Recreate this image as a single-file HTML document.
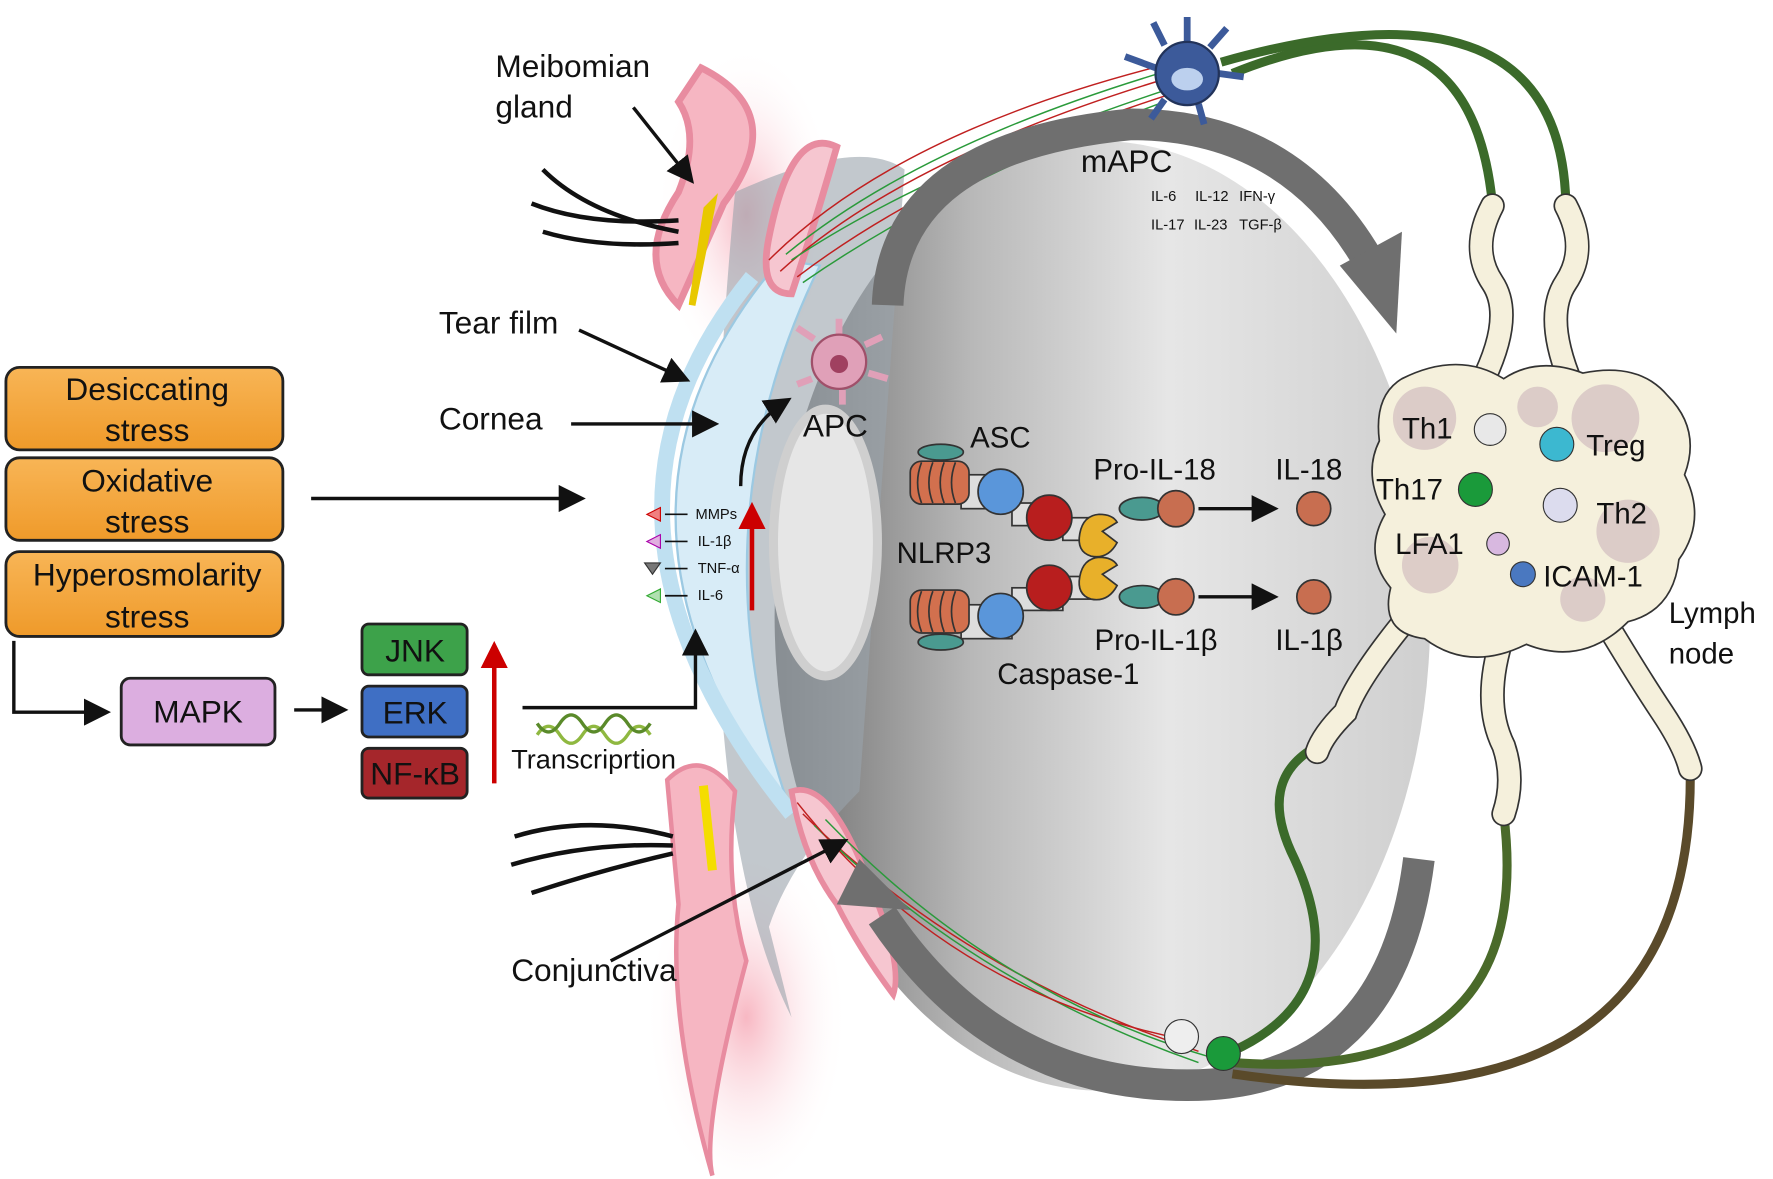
<!DOCTYPE html>
<html><head><meta charset="utf-8"><style>
html,body{margin:0;padding:0;background:#fff;}
svg{display:block;font-family:"Liberation Sans",sans-serif;}
</style></head><body>
<svg width="1773" height="1179" viewBox="0 0 1568 1043" xmlns="http://www.w3.org/2000/svg">
<defs>
<linearGradient id="eye" x1="0" x2="1" y1="0" y2="0">
<stop offset="0" stop-color="#6e6e6e"/><stop offset="0.3" stop-color="#b8b8b8"/><stop offset="0.6" stop-color="#e6e6e6"/><stop offset="1" stop-color="#cfcfcf"/></linearGradient>
<linearGradient id="org" x1="0" x2="0" y1="0" y2="1"><stop offset="0" stop-color="#f8b556"/><stop offset="1" stop-color="#ef9a2a"/></linearGradient>
<radialGradient id="pinkfade" cx="0.5" cy="0.5" r="0.5"><stop offset="0" stop-color="#f6a6b4" stop-opacity="0.8"/><stop offset="1" stop-color="#fff" stop-opacity="0"/></radialGradient>
<marker id="ah" markerWidth="8" markerHeight="8" refX="6" refY="4" orient="auto" markerUnits="strokeWidth"><path d="M0,0 L8,4 L0,8 Z" fill="#111"/></marker>
<marker id="rh" markerWidth="6" markerHeight="6" refX="4" refY="3" orient="auto" markerUnits="strokeWidth"><path d="M0,0 L6,3 L0,6 Z" fill="#c00"/></marker>
</defs>
<ellipse cx="660" cy="190" rx="80" ry="150" fill="url(#pinkfade)"/>
<ellipse cx="660" cy="900" rx="90" ry="160" fill="url(#pinkfade)"/>
<ellipse cx="975" cy="545" rx="290" ry="420" fill="url(#eye)"/>
<path d="M650,170 Q760,120 800,150 L760,700 Q700,760 680,820 L700,900 Q600,700 650,170Z" fill="#9aa3ab" opacity="0.6"/>
<path d="M690,230 Q500,450 700,720 Q610,470 725,235 Z" fill="#d8ecf7" stroke="#9cc9e2" stroke-width="2"/>
<path d="M665,245 Q490,460 700,720" fill="none" stroke="#bfe0f1" stroke-width="14"/>
<ellipse cx="730" cy="480" rx="46" ry="118" fill="#e6e6e6" stroke="#cfcfcf" stroke-width="8"/>
<path d="M620,60 Q700,100 640,180 L600,270 Q560,230 600,170 Q620,120 600,90 Z" fill="#f6b6c2" stroke="#e88ca0" stroke-width="6"/>
<path d="M625,185 L612,270 L630,180Z" fill="#f4dd00" stroke="#e8c800" stroke-width="6"/>
<path d="M680,210 Q700,110 740,130 Q720,200 700,260 Q670,260 680,210Z" fill="#f6c6d0" stroke="#e88ca0" stroke-width="6"/>
<path d="M590,690 Q620,660 650,700 Q640,780 660,850 Q620,1000 630,1040 Q590,900 600,800 Z" fill="#f6b6c2" stroke="#e88ca0" stroke-width="4"/>
<path d="M622,695 L630,770" stroke="#f4dd00" stroke-width="8"/>
<path d="M700,700 Q730,690 760,760 Q800,850 790,880 Q760,840 740,800 Q710,760 700,700Z" fill="#f6c6d0" stroke="#e88ca0" stroke-width="5"/>
<g fill="none" stroke="#111" stroke-width="4">
<path d="M600,205 Q520,190 480,150"/><path d="M600,195 Q520,200 470,180"/><path d="M600,215 Q530,220 480,205"/>
<path d="M595,740 Q520,720 455,740"/><path d="M595,748 Q520,745 452,765"/><path d="M595,755 Q530,770 470,790"/>
</g>
<g fill="none" stroke-width="1.3">
<path d="M690,240 Q800,140 1030,70" stroke="#c02020"/><path d="M700,230 Q820,150 1030,80" stroke="#2a9a3a"/>
<path d="M680,230 Q790,120 1020,60" stroke="#c02020"/><path d="M710,250 Q840,160 1030,90" stroke="#2a9a3a"/>
<path d="M695,225 Q810,130 1025,65" stroke="#2a9a3a"/><path d="M705,245 Q830,150 1030,85" stroke="#c02020"/>
<path d="M710,720 Q850,860 1060,930" stroke="#c02020"/><path d="M720,730 Q860,870 1060,940" stroke="#2a9a3a"/>
<path d="M705,710 Q840,880 1050,920" stroke="#c02020"/><path d="M730,725 Q880,880 1070,935" stroke="#2a9a3a"/>
</g>
<path d="M785,270 Q790,130 1000,110 Q1140,110 1210,230" fill="none" stroke="#6f6f6f" stroke-width="28"/>
<path d="M1185,235 L1235,295 L1240,205 Z" fill="#6f6f6f"/>
<path d="M1255,760 Q1230,960 1050,960 Q880,960 780,810" fill="none" stroke="#6f6f6f" stroke-width="28"/>
<path d="M740,800 L760,760 L805,805 Z" fill="#6f6f6f"/>
<g fill="none" stroke-width="8">
<path d="M1090,65 Q1300,-20 1320,180" stroke="#3b6a2a"/>
<path d="M1080,55 Q1380,-30 1385,180" stroke="#3b6a2a"/>
<path d="M1090,930 Q1200,880 1145,760 Q1110,690 1165,660" stroke="#3b6a2a"/>
<path d="M1090,940 Q1360,960 1330,720" stroke="#4a6a2a"/>
<path d="M1090,950 Q1500,1010 1495,680" stroke="#5a4a2a"/>
</g>
<!-- lymph node stalks -->
<g fill="none" stroke-linecap="round">
<g stroke="#333" stroke-width="22">
<path d="M1320,182 Q1300,220 1320,250 Q1340,280 1310,340"/>
<path d="M1385,182 Q1405,220 1385,250 Q1365,280 1390,340"/>
<path d="M1250,540 Q1200,600 1190,630 Q1170,650 1165,665"/>
<path d="M1330,560 Q1310,620 1330,660 Q1340,690 1330,720"/>
<path d="M1420,550 Q1450,600 1470,630 Q1490,660 1495,680"/>
</g>
<g stroke="#f5f0dc" stroke-width="19">
<path d="M1320,182 Q1300,220 1320,250 Q1340,280 1310,340"/>
<path d="M1385,182 Q1405,220 1385,250 Q1365,280 1390,340"/>
<path d="M1250,540 Q1200,600 1190,630 Q1170,650 1165,665"/>
<path d="M1330,560 Q1310,620 1330,660 Q1340,690 1330,720"/>
<path d="M1420,550 Q1450,600 1470,630 Q1490,660 1495,680"/>
</g>
</g>
<path d="M1240,335 Q1290,310 1330,335 Q1360,315 1400,330 Q1450,320 1475,350 Q1505,380 1490,420 Q1510,460 1485,495 Q1480,540 1440,550 Q1400,590 1350,570 Q1300,595 1260,565 Q1220,560 1230,520 Q1205,490 1225,455 Q1205,420 1220,390 Q1215,350 1240,335 Z" fill="#f5f0dc" stroke="#333" stroke-width="1.5"/>
<g fill="#c8b0b8" opacity="0.55"><circle cx="1260" cy="370" r="28"/><circle cx="1420" cy="370" r="30"/><circle cx="1265" cy="500" r="25"/><circle cx="1440" cy="470" r="28"/><circle cx="1360" cy="360" r="18"/><circle cx="1400" cy="530" r="20"/></g>
<circle cx="1318" cy="380" r="14" fill="#e8e8e8" stroke="#333"/>
<circle cx="1377" cy="393" r="15" fill="#3cb8d0" stroke="#333"/>
<circle cx="1305" cy="433" r="15" fill="#1a9a3a" stroke="#333"/>
<circle cx="1380" cy="447" r="15" fill="#dcdcee" stroke="#333"/>
<circle cx="1325" cy="481" r="10" fill="#d8b8e0" stroke="#333"/>
<circle cx="1347" cy="508" r="11" fill="#4a78c0" stroke="#333"/>
<g font-size="26" fill="#111"><text x="1240" y="388">Th1</text><text x="1403" y="403">Treg</text><text x="1217" y="442">Th17</text><text x="1412" y="463">Th2</text><text x="1234" y="490">LFA1</text><text x="1365" y="519">ICAM-1</text>
<text x="1476" y="551">Lymph</text><text x="1476" y="587">node</text></g>
<circle cx="1045" cy="917" r="15" fill="#eee" stroke="#333"/><circle cx="1082" cy="932" r="15" fill="#1a9a3a" stroke="#333"/>
<g stroke="#22335a" stroke-width="2" fill="#3c5a9a">
<path d="M1022,60 L995,50 M1030,40 L1020,20 M1050,37 L1050,15 M1070,42 L1085,25 M1078,65 L1100,68 M1030,88 L1018,105 M1060,92 L1065,110" stroke-width="6" fill="none" stroke="#3c5a9a"/>
<circle cx="1050" cy="65" r="28"/></g>
<ellipse cx="1050" cy="70" rx="14" ry="10" fill="#bcd0ee"/>
<path d="M720,300 L705,290 M742,296 L742,282 M765,305 L780,298 M768,330 L785,335 M745,345 L745,358 M718,335 L705,340" stroke="#e0a0b8" stroke-width="6"/>
<circle cx="742" cy="320" r="24" fill="#e0a0b8" stroke="#a0506a" stroke-width="2"/>
<circle cx="742" cy="322" r="8" fill="#a04060"/>
<g font-size="28" fill="#111">
<text x="438" y="68">Meibomian</text><text x="438" y="104">gland</text>
<text x="388" y="295">Tear film</text><text x="388" y="380">Cornea</text>
<text x="956" y="152">mAPC</text><text x="710" y="386">APC</text>
<text x="452" y="868">Conjunctiva</text>
</g>
<g font-size="13" fill="#111"><text x="1018" y="178">IL-6</text><text x="1057" y="178">IL-12</text><text x="1096" y="178">IFN-γ</text>
<text x="1018" y="203">IL-17</text><text x="1056" y="203">IL-23</text><text x="1096" y="203">TGF-β</text></g>
<g stroke="#111" stroke-width="3" fill="none" marker-end="url(#ah)">
<line x1="560" y1="95" x2="610" y2="158"/>
<line x1="512" y1="292" x2="605" y2="335"/>
<line x1="505" y1="375" x2="630" y2="375"/>
<path d="M655,430 Q655,380 695,355"/>
<line x1="275" y1="441" x2="512" y2="441"/>
<line x1="540" y1="850" x2="745" y2="745"/>
<path d="M12,567 L12,630 L92,630"/>
<line x1="260" y1="628" x2="302" y2="628"/>
<path d="M462,626 L615,626 L615,562"/>
</g>
<line x1="665" y1="540" x2="665" y2="452" stroke="#c00" stroke-width="4" marker-end="url(#rh)"/>
<line x1="437" y1="693" x2="437" y2="575" stroke="#c00" stroke-width="4" marker-end="url(#rh)"/>
<g font-size="13" fill="#111"><text x="615" y="459">MMPs</text><text x="617" y="483">IL-1β</text><text x="617" y="507">TNF-α</text><text x="617" y="531">IL-6</text></g>
<g stroke="#111" stroke-width="1.5"><line x1="588" y1="455" x2="608" y2="455"/><line x1="588" y1="479" x2="608" y2="479"/><line x1="588" y1="503" x2="608" y2="503"/><line x1="588" y1="527" x2="608" y2="527"/></g>
<path d="M572,455 L584,449 L584,461Z" fill="#f08080" stroke="#c00"/>
<path d="M572,479 L584,473 L584,485Z" fill="#e0b0e0" stroke="#a0a"/>
<path d="M570,498 L584,498 L577,508Z" fill="#777" stroke="#333"/>
<path d="M572,527 L584,521 L584,533Z" fill="#b0e0b0" stroke="#3a3"/>
<path d="M475,650 Q485,635 495,650 T515,650 T535,650 T555,650 T575,650" fill="none" stroke="#8fb840" stroke-width="3"/>
<path d="M475,640 Q485,655 495,640 T515,640 T535,640 T555,640 T575,640" fill="none" stroke="#5a8a2a" stroke-width="3"/>
<text x="452" y="680" font-size="24" fill="#111">Transcriprtion</text>
<g stroke="#222" stroke-width="2.5">
<rect x="5" y="325" width="245" height="73" rx="12" fill="url(#org)"/>
<rect x="5" y="405" width="245" height="73" rx="12" fill="url(#org)"/>
<rect x="5" y="488" width="245" height="75" rx="12" fill="url(#org)"/>
<rect x="107" y="600" width="136" height="59" rx="8" fill="#dcaee0"/>
<rect x="320" y="552" width="93" height="45" rx="6" fill="#3da24a"/>
<rect x="320" y="607" width="93" height="45" rx="6" fill="#3f6fc4"/>
<rect x="320" y="662" width="93" height="44" rx="6" fill="#a5262b"/>
</g>
<g font-size="28" fill="#111" text-anchor="middle">
<text x="130" y="354">Desiccating</text><text x="130" y="390">stress</text>
<text x="130" y="435">Oxidative</text><text x="130" y="471">stress</text>
<text x="130" y="518">Hyperosmolarity</text><text x="130" y="555">stress</text>
<text x="175" y="639">MAPK</text>
<text x="367" y="585">JNK</text><text x="367" y="640">ERK</text><text x="367" y="694">NF-κB</text>
</g>
<g stroke="#333" stroke-width="1.5">
<rect x="850" y="420" width="45" height="30" fill="#ddd"/>
<rect x="895" y="445" width="45" height="20" fill="#ddd"/>
<rect x="940" y="458" width="30" height="20" fill="#ddd"/>
<ellipse cx="832" cy="400" rx="20" ry="7" fill="#4a9a90"/>
<rect x="805" y="408" width="52" height="38" rx="10" fill="#d2704e"/>
<g fill="none"><path d="M815,409 Q808,427 815,445 M825,409 Q818,427 825,445 M835,409 Q828,427 835,445 M845,409 Q838,427 845,445"/></g>
<circle cx="885" cy="435" r="20" fill="#5a96da"/><circle cx="928" cy="458" r="20" fill="#b81e1e"/>
<path d="M988,462 L975,470 L988,480 Q980,495 965,492 Q952,488 955,472 Q958,456 972,455 Q984,455 988,462Z" fill="#e8b02a"/>
<ellipse cx="1010" cy="450" rx="20" ry="10" fill="#4a9a90"/><circle cx="1040" cy="450" r="16" fill="#c86e50"/>
<circle cx="1162" cy="450" r="15" fill="#c86e50"/>
<rect x="850" y="535" width="45" height="30" fill="#ddd"/>
<rect x="895" y="520" width="45" height="20" fill="#ddd"/>
<rect x="940" y="510" width="30" height="20" fill="#ddd"/>
<ellipse cx="832" cy="568" rx="20" ry="7" fill="#4a9a90"/>
<rect x="805" y="522" width="52" height="38" rx="10" fill="#d2704e"/>
<g fill="none"><path d="M815,523 Q808,541 815,559 M825,523 Q818,541 825,559 M835,523 Q828,541 835,559 M845,523 Q838,541 845,559"/></g>
<circle cx="885" cy="545" r="20" fill="#5a96da"/><circle cx="928" cy="520" r="20" fill="#b81e1e"/>
<path d="M988,500 L975,508 L988,518 Q980,533 965,530 Q952,526 955,510 Q958,494 972,493 Q984,493 988,500Z" fill="#e8b02a"/>
<ellipse cx="1010" cy="528" rx="20" ry="10" fill="#4a9a90"/><circle cx="1040" cy="528" r="16" fill="#c86e50"/>
<circle cx="1162" cy="528" r="15" fill="#c86e50"/>
</g>
<g stroke="#111" stroke-width="3" marker-end="url(#ah)"><line x1="1060" y1="450" x2="1125" y2="450"/><line x1="1060" y1="528" x2="1125" y2="528"/></g>
<g font-size="26" fill="#111">
<text x="858" y="396">ASC</text><text x="967" y="424">Pro-IL-18</text><text x="1128" y="424">IL-18</text>
<text x="793" y="498">NLRP3</text><text x="968" y="575">Pro-IL-1β</text><text x="1128" y="575">IL-1β</text>
<text x="882" y="605">Caspase-1</text>
</g>
</svg>
</body></html>
